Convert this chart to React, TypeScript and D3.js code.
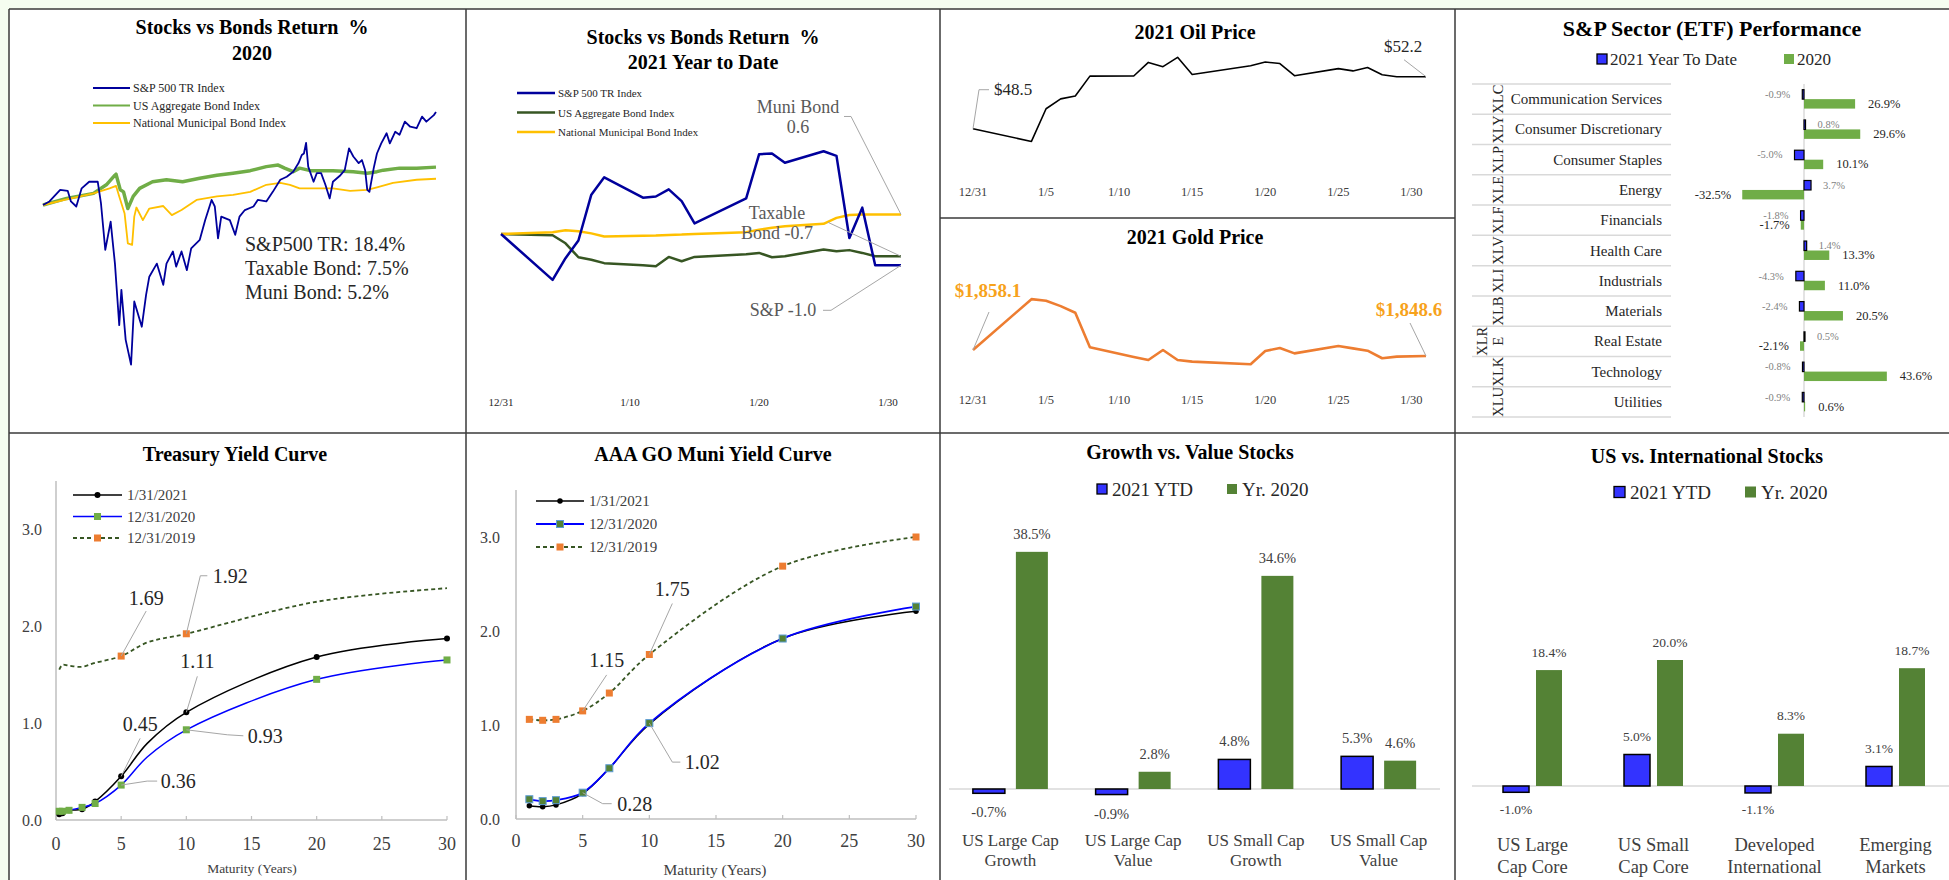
import * as d3 from "d3";
import React from "react";

const SERIF = "'Liberation Serif', 'Times New Roman', serif";
const INK = "#262626";
const GREY_TXT = "#595959";
const LEADER = "#a6a6a6";
const AXIS = "#bfbfbf";
const BORDER = "#3a3a3a";
const BLUE_BAR = "#3333ff";
const GREEN_LIGHT = "#70ad47";
const GREEN_DARK = "#548235";
const GREEN_DASH = "#375623";
const NAVY = "#00009c";
const YELLOW = "#ffc000";
const ORANGE = "#ed7d31";
const GOLD_TXT = "#f7a21b";

// ---- Stocks vs Bonds, 2020 (day of year, cumulative %) ----
const sp2020Day = [0, 6, 16, 23, 26, 31, 36, 43, 51, 54, 58, 63, 67, 71, 73, 77, 82, 85, 92, 96, 99, 106, 112, 115, 121, 124, 129, 134, 138, 146, 151, 157, 160, 163, 166, 174, 179, 183, 188, 196, 200, 208, 214, 221, 227, 233, 238, 241, 243, 245, 247, 252, 255, 259, 263, 267, 270, 277, 281, 285, 289, 294, 297, 300, 302, 304, 308, 311, 315, 320, 323, 328, 332, 337, 342, 348, 353, 357, 364, 366];
const sp2020Ret = [0, 0.7, 3.0, 2.8, 0.7, -0.3, 3.3, 4.6, 4.6, 0.3, -8.9, -3.3, -11.6, -23.8, -16.8, -26.7, -31.6, -19.1, -24.1, -17.8, -14.2, -11.6, -15.8, -11.6, -9.2, -12.2, -9.2, -12.9, -8.6, -6.9, -3.0, 1.0, -0.3, -6.6, -2.3, -3.0, -5.9, -2.3, -1.0, -0.3, 1.0, 0.7, 2.6, 5.0, 5.6, 6.6, 8.3, 9.9, 10.2, 12.3, 7.6, 4.6, 6.3, 6.3, 4.0, 1.3, 4.6, 5.9, 6.9, 11.2, 9.6, 8.3, 8.9, 6.9, 3.0, 2.6, 7.3, 10.2, 12.2, 14.2, 12.2, 14.5, 13.9, 16.5, 15.5, 15.2, 17.5, 16.5, 17.8, 18.4];
const agg2020Day = [0, 22, 47, 59, 67, 68, 72, 75, 79, 84, 90, 102, 115, 130, 146, 162, 177, 193, 208, 219, 225, 233, 239, 249, 270, 289, 302, 311, 317, 332, 348, 366];
const agg2020Ret = [0, 1.3, 2.3, 4.0, 5.9, 6.1, 3.0, 2.6, -0.7, 1.7, 3.3, 4.6, 5.0, 4.6, 5.3, 5.9, 6.3, 6.8, 7.6, 7.9, 7.3, 6.6, 7.3, 6.8, 6.8, 6.6, 6.3, 6.6, 6.9, 7.3, 7.3, 7.5];
const muni2020Day = [0, 22, 47, 62, 68, 71, 76, 79, 83, 85, 87, 93, 99, 112, 120, 129, 143, 162, 177, 193, 208, 221, 230, 239, 270, 286, 302, 311, 326, 348, 366];
const muni2020Ret = [0, 1.1, 2.3, 3.3, 3.8, 1.7, -1.7, -7.6, -7.9, -2.3, -0.5, -3.0, -0.7, -0.2, -2.0, -1.0, 1.0, 1.7, 2.0, 2.6, 4.0, 4.4, 4.0, 3.3, 3.3, 2.8, 3.0, 3.5, 4.4, 5.0, 5.2];
const legend2020 = ["S&P 500 TR Index", "US Aggregate Bond Index", "National Municipal Bond Index"];
const notes2020 = ["S&P500 TR: 18.4%", "Taxable Bond: 7.5%", "Muni Bond: 5.2%"];

// ---- January 2021 (days since 12/31) ----
const janDays = [0, 4, 5, 6, 7, 8, 11, 12, 13, 14, 15, 19, 20, 21, 22, 25, 26, 27, 28, 29, 31];
const sp2021 = [0, -1.48, -0.78, -0.21, 1.27, 1.83, 1.17, 1.21, 1.44, 1.06, 0.34, 1.15, 2.57, 2.6, 2.3, 2.67, 2.52, -0.13, 0.85, -1.01, -1.01];
const agg2021 = [0, -0.04, -0.3, -0.75, -0.83, -0.94, -1.01, -1.04, -0.74, -0.88, -0.74, -0.65, -0.61, -0.75, -0.72, -0.5, -0.56, -0.52, -0.61, -0.72, -0.72];
const muni2021 = [0, 0.06, 0.12, 0.09, 0.02, -0.08, -0.06, -0.05, -0.03, -0.02, 0.0, 0.06, 0.14, 0.2, 0.25, 0.33, 0.52, 0.61, 0.63, 0.63, 0.63];
const ytdTickDays = [0, 10, 20, 30];
const ytdTickLabels = ["12/31", "1/10", "1/20", "1/30"];

const oilPrice = [48.52, 47.62, 49.93, 50.63, 50.83, 52.24, 52.25, 53.21, 52.91, 53.57, 52.36, 52.98, 53.24, 53.13, 52.27, 52.77, 52.61, 52.85, 52.34, 52.2, 52.2];
const goldPrice = [1858.1, 1938.6, 1936.0, 1927.6, 1917.0, 1862.3, 1847.0, 1842.3, 1858.1, 1842.3, 1839.7, 1835.5, 1856.5, 1861.3, 1852.8, 1864.4, 1860.7, 1857.0, 1845.0, 1847.6, 1848.6];
const commTickDays = [0, 5, 10, 15, 20, 25, 30];
const commTickLabels = ["12/31", "1/5", "1/10", "1/15", "1/20", "1/25", "1/30"];

// ---- Sector ETFs ----
const sectorTickers = ["XLC", "XLY", "XLP", "XLE", "XLF", "XLV", "XLI", "XLB", "XLRE", "XLK", "XLU"];
const sectorNames = ["Communication Services", "Consumer Discretionary", "Consumer Staples", "Energy", "Financials", "Health Care", "Industrials", "Materials", "Real Estate", "Technology", "Utilities"];
const sectorYtd = [-0.9, 0.8, -5.0, 3.7, -1.8, 1.4, -4.3, -2.4, 0.5, -0.8, -0.9];
const sector2020 = [26.9, 29.6, 10.1, -32.5, -1.7, 13.3, 11.0, 20.5, -2.1, 43.6, 0.6];

// ---- Yield curves ----
const tsyMat = [0.25, 0.5, 1, 2, 3, 5, 7, 10, 20, 30];
const tsy2021 = [0.06, 0.07, 0.10, 0.11, 0.19, 0.45, 0.79, 1.11, 1.68, 1.87];
const tsy2020 = [0.09, 0.09, 0.10, 0.13, 0.17, 0.36, 0.65, 0.93, 1.45, 1.65];
const tsy2019 = [1.55, 1.60, 1.59, 1.58, 1.62, 1.69, 1.83, 1.92, 2.25, 2.39];
const muniMat = [1, 2, 3, 5, 7, 10, 20, 30];
const aaa2021 = [0.14, 0.13, 0.15, 0.27, 0.54, 1.01, 1.92, 2.21];
const aaa2020 = [0.21, 0.19, 0.20, 0.28, 0.54, 1.02, 1.92, 2.26];
const aaa2019 = [1.06, 1.05, 1.06, 1.15, 1.34, 1.75, 2.69, 3.00];
const curveDates = ["1/31/2021", "12/31/2020", "12/31/2019"];
const yTicks = [0, 1, 2, 3];
const xTicks = [0, 5, 10, 15, 20, 25, 30];

// ---- Growth / value and US / international ----
const gvCats = [["US Large Cap", "Growth"], ["US Large Cap", "Value"], ["US Small Cap", "Growth"], ["US Small Cap", "Value"]];
const gvYtd = [-0.7, -0.9, 4.8, 5.3];
const gv2020 = [38.5, 2.8, 34.6, 4.6];
const intlCats = [["US Large", "Cap Core"], ["US Small", "Cap Core"], ["Developed", "International"], ["Emerging", "Markets"]];
const intlYtd = [-1.0, 5.0, -1.1, 3.1];
const intl2020 = [18.4, 20.0, 8.3, 18.7];

type Pt = [number, number];
const pairs = (a: number[], b: number[]): Pt[] => a.map((v, i) => [v, b[i]] as Pt);
const pct = (v: number) => v.toFixed(1) + "%";

function T({ x, y, children, size = 14, anchor = "middle", weight = "normal", fill = INK, ...rest }: any) {
  return (
    <text x={x} y={y} fontSize={size} textAnchor={anchor} fontWeight={weight} fill={fill}
      dominantBaseline="central" fontFamily={SERIF} {...rest}>{children}</text>
  );
}

function Leader({ pts }: { pts: Pt[] }) {
  return <polyline points={pts.map(p => p.join(",")).join(" ")} fill="none" stroke={LEADER} strokeWidth={1} />;
}

function Stocks2020() {
  const x = d3.scaleLinear().domain([0, 366]).range([43, 436]);
  const y = d3.scaleLinear().domain([0, 10]).range([205, 154.5]);
  const line = d3.line<Pt>().x(d => x(d[0])).y(d => y(d[1]));
  const styles = [
    { color: NAVY, w: 2 },
    { color: GREEN_LIGHT, w: 3.5 },
    { color: YELLOW, w: 2 },
  ];
  return (
    <g>
      <T x={252} y={27} size={20} weight="bold" fill="#000">{"Stocks vs Bonds Return \u00a0%"}</T>
      <T x={252} y={53} size={20} weight="bold" fill="#000">2020</T>
      {legend2020.map((name, i) => (
        <g key={name}>
          <line x1={93} x2={130} y1={88 + i * 17.5} y2={88 + i * 17.5} stroke={styles[i].color} strokeWidth={2} />
          <T x={133} y={88 + i * 17.5} size={12} anchor="start">{name}</T>
        </g>
      ))}
      <path d={line(pairs(agg2020Day, agg2020Ret))!} fill="none" stroke={GREEN_LIGHT} strokeWidth={3.5} strokeLinejoin="round" />
      <path d={line(pairs(muni2020Day, muni2020Ret))!} fill="none" stroke={YELLOW} strokeWidth={1.8} strokeLinejoin="round" />
      <path d={line(pairs(sp2020Day, sp2020Ret))!} fill="none" stroke={NAVY} strokeWidth={1.8} strokeLinejoin="round" />
      {notes2020.map((s, i) => (
        <T key={s} x={245} y={244 + i * 24} size={20} anchor="start" fill={INK}>{s}</T>
      ))}
    </g>
  );
}

function Stocks2021() {
  const x = d3.scaleLinear().domain([0, 31]).range([501, 901]);
  const y = d3.scaleLinear().domain([0, 1]).range([234, 203]);
  const line = d3.line<Pt>().x(d => x(d[0])).y(d => y(d[1]));
  const styles = [NAVY, GREEN_DASH, YELLOW];
  const last = janDays.length - 1;
  const xe = x(janDays[last]);
  const ySp = y(sp2021[last]), yAgg = y(agg2021[last]), yMuni = y(muni2021[last]);
  return (
    <g>
      <T x={703} y={37} size={20} weight="bold" fill="#000">{"Stocks vs Bonds Return \u00a0%"}</T>
      <T x={703} y={62} size={20} weight="bold" fill="#000">2021 Year to Date</T>
      {legend2020.map((name, i) => (
        <g key={name}>
          <line x1={517} x2={555} y1={93 + i * 19.5} y2={93 + i * 19.5} stroke={styles[i]} strokeWidth={2.5} />
          <T x={558} y={93 + i * 19.5} size={11} anchor="start">{name}</T>
        </g>
      ))}
      <path d={line(pairs(janDays, agg2021))!} fill="none" stroke={GREEN_DASH} strokeWidth={2.5} strokeLinejoin="round" />
      <path d={line(pairs(janDays, muni2021))!} fill="none" stroke={YELLOW} strokeWidth={2.5} strokeLinejoin="round" />
      <path d={line(pairs(janDays, sp2021))!} fill="none" stroke={NAVY} strokeWidth={2.5} strokeLinejoin="round" />
      {ytdTickDays.map((d, i) => (
        <T key={d} x={x(d)} y={402} size={11} fill={INK}>{ytdTickLabels[i]}</T>
      ))}
      <Leader pts={[[xe - 57, yMuni - 98], [xe - 50, yMuni - 98], [xe, yMuni]]} />
      <T x={xe - 103} y={yMuni - 107} size={18} fill={GREY_TXT}>Muni Bond</T>
      <T x={xe - 103} y={yMuni - 87} size={18} fill={GREY_TXT}>{muni2021[last].toFixed(1)}</T>
      <Leader pts={[[xe - 73, yAgg - 34], [xe, yAgg]]} />
      <T x={xe - 124} y={yAgg - 43} size={18} fill={GREY_TXT}>Taxable</T>
      <T x={xe - 124} y={yAgg - 23} size={18} fill={GREY_TXT}>{"Bond " + agg2021[last].toFixed(1)}</T>
      <Leader pts={[[xe - 78, ySp + 45], [xe - 70, ySp + 45], [xe, ySp]]} />
      <T x={xe - 118} y={ySp + 45} size={18} fill={GREY_TXT}>{"S&P " + sp2021[last].toFixed(1)}</T>
    </g>
  );
}

function Commodities() {
  const x = d3.scaleLinear().domain([0, 31]).range([973, 1426]);
  const yOil = d3.scaleLinear().domain([48.5, 52.2]).range([129, 76.7]);
  const yGold = d3.scaleLinear().domain([1858.1, 1848.6]).range([350, 356]);
  const oilLine = d3.line<Pt>().x(d => x(d[0])).y(d => yOil(d[1]));
  const goldLine = d3.line<Pt>().x(d => x(d[0])).y(d => yGold(d[1]));
  const last = janDays.length - 1;
  const o0: Pt = [x(0), yOil(oilPrice[0])];
  const o1: Pt = [x(janDays[last]), yOil(oilPrice[last])];
  const g0: Pt = [x(0), yGold(goldPrice[0])];
  const g1: Pt = [x(janDays[last]), yGold(goldPrice[last])];
  return (
    <g>
      <T x={1195} y={32} size={20} weight="bold" fill="#000">2021 Oil Price</T>
      <path d={oilLine(pairs(janDays, oilPrice))!} fill="none" stroke="#000" strokeWidth={1.6} strokeLinejoin="round" />
      {commTickDays.map((d, i) => (
        <T key={"o" + d} x={x(d)} y={192} size={12.5} fill="#404040">{commTickLabels[i]}</T>
      ))}
      <Leader pts={[[o0[0] + 16, o0[1] - 39], [o0[0] + 6, o0[1] - 39], o0]} />
      <T x={o0[0] + 40} y={o0[1] - 39} size={17} fill={INK}>{"$" + oilPrice[0].toFixed(1)}</T>
      <Leader pts={[[o1[0] - 22, o1[1] - 17], o1]} />
      <T x={o1[0] - 23} y={o1[1] - 30} size={17} fill={INK}>{"$" + oilPrice[last].toFixed(1)}</T>

      <T x={1195} y={237} size={20} weight="bold" fill="#000">2021 Gold Price</T>
      <path d={goldLine(pairs(janDays, goldPrice))!} fill="none" stroke={ORANGE} strokeWidth={2.6} strokeLinejoin="round" />
      {commTickDays.map((d, i) => (
        <T key={"g" + d} x={x(d)} y={400} size={12.5} fill="#404040">{commTickLabels[i]}</T>
      ))}
      <Leader pts={[[g0[0] + 16, g0[1] - 38], g0]} />
      <T x={g0[0] + 15} y={g0[1] - 60} size={19} weight="bold" fill={GOLD_TXT}>{"$" + d3.format(",.1f")(goldPrice[0])}</T>
      <Leader pts={[[g1[0] - 16, g1[1] - 33], g1]} />
      <T x={g1[0] - 17} y={g1[1] - 47} size={19} weight="bold" fill={GOLD_TXT}>{"$" + d3.format(",.1f")(goldPrice[last])}</T>
    </g>
  );
}

function Sectors() {
  const y = d3.scaleBand().domain(sectorTickers).range([84, 417]);
  const sub = d3.scaleBand().domain(["ytd", "yr"]).range([0, y.bandwidth()]).paddingOuter(0.6);
  const x = d3.scaleLinear().domain([0, 10]).range([1804, 1823]);
  const bh = sub.bandwidth();
  return (
    <g>
      <T x={1712} y={28} size={22} weight="bold" fill="#000">S&amp;P Sector (ETF) Performance</T>
      <rect x={1597} y={54} width={10} height={10} fill={BLUE_BAR} stroke="#000" strokeWidth={1.3} />
      <T x={1610} y={59} size={17} anchor="start">2021 Year To Date</T>
      <rect x={1784} y={54} width={10} height={10} fill={GREEN_LIGHT} />
      <T x={1797} y={59} size={17} anchor="start">2020</T>
      {sectorTickers.map(t => (
        <line key={"l" + t} x1={1472} x2={1671} y1={y(t)!} y2={y(t)!} stroke="#d9d9d9" strokeWidth={1.5} />
      ))}
      <line x1={1472} x2={1671} y1={417} y2={417} stroke="#d9d9d9" strokeWidth={1.5} />
      <line x1={x(0)} x2={x(0)} y1={84} y2={417} stroke="#d0d0d0" strokeWidth={1.2} />
      {sectorTickers.map((t, i) => {
        const cy = y(t)! + y.bandwidth() / 2;
        const parts = t === "XLRE" ? ["XLR", "E"] : [t];
        const yb = y(t)! + sub("ytd")!;
        const yg = y(t)! + sub("yr")!;
        const vb = sectorYtd[i], vg = sector2020[i];
        return (
          <g key={t}>
            {parts.map((p, j) => (
              <T key={p} x={1498 - (parts.length - 1 - j) * 16} y={cy} size={14.5}
                transform={`rotate(-90 ${1498 - (parts.length - 1 - j) * 16} ${cy})`}>{p}</T>
            ))}
            <T x={1662} y={cy} size={15} anchor="end">{sectorNames[i]}</T>
            <rect x={Math.min(x(0), x(vg))} y={yg} width={Math.abs(x(vg) - x(0))} height={bh} fill={GREEN_LIGHT} />
            <rect x={Math.min(x(0), x(vb))} y={yb} width={Math.max(Math.abs(x(vb) - x(0)), 1)} height={bh}
              fill={BLUE_BAR} stroke="#000" strokeWidth={1.2} />
            <T x={vb < 0 ? x(vb) - 12 : x(vb) + 12} y={yb + bh / 2} size={10.5} fill="#7f7f7f"
              anchor={vb < 0 ? "end" : "start"}>{pct(vb)}</T>
            <T x={vg < 0 ? x(vg) - 11 : x(vg) + 13} y={yg + bh / 2} size={12.5} fill={INK}
              anchor={vg < 0 ? "end" : "start"}>{pct(vg)}</T>
          </g>
        );
      })}
    </g>
  );
}

function YieldPanel({ cfg }: any) {
  const x = d3.scaleLinear().domain([0, 30]).range([cfg.x0, cfg.x1]);
  const y = d3.scaleLinear().domain([0, 3]).range([cfg.y0, cfg.y3]);
  const line = d3.line<Pt>().x(d => x(d[0])).y(d => y(d[1])).curve(d3.curveCatmullRom.alpha(0.5));
  const sq = (cx: number, cy: number, s: any, k: string) => (
    <rect key={k} x={cx - s.size / 2} y={cy - s.size / 2} width={s.size} height={s.size}
      fill={s.fill} stroke={s.stroke || "none"} strokeWidth={1} />
  );
  const marker = (cx: number, cy: number, s: any, k: string) =>
    s.shape === "dot" ? <circle key={k} cx={cx} cy={cy} r={s.size / 2} fill={s.fill} /> : sq(cx, cy, s, k);
  return (
    <g>
      <T x={cfg.titleX} y={454} size={20} weight="bold" fill="#000">{cfg.title}</T>
      <line x1={cfg.x0} x2={cfg.x0} y1={cfg.axisTop} y2={cfg.y0} stroke={AXIS} strokeWidth={1.5} />
      <line x1={cfg.x0} x2={cfg.x1} y1={cfg.y0} y2={cfg.y0} stroke={AXIS} strokeWidth={1.5} />
      {xTicks.map(t => (
        <g key={"x" + t}>
          <line x1={x(t)} x2={x(t)} y1={cfg.y0 - 4} y2={cfg.y0} stroke={AXIS} strokeWidth={1.2} />
          <T x={x(t)} y={cfg.xLabY} size={18} fill="#404040">{t}</T>
        </g>
      ))}
      {yTicks.map(t => (
        <T key={"y" + t} x={cfg.yLabX} y={y(t)} size={16} anchor="end" fill="#404040">{t.toFixed(1)}</T>
      ))}
      <T x={cfg.axisTitleX} y={cfg.axisTitleY} size={cfg.axisTitleSize} fill="#404040">Maturity (Years)</T>
      {cfg.series.map((s: any, i: number) => (
        <path key={"p" + i} d={line(pairs(cfg.mats, s.values))!} fill="none" stroke={s.color}
          strokeWidth={s.width} strokeDasharray={s.dash || null} />
      ))}
      {cfg.series.map((s: any, i: number) =>
        cfg.mats.map((m: number, j: number) =>
          s.showAt(m) ? marker(x(m), y(s.values[j]), s.marker, `m${i}-${j}`) : null)
      )}
      {cfg.series.map((s: any, i: number) => {
        const ly = cfg.legY + i * cfg.legStep;
        return (
          <g key={"leg" + i}>
            <line x1={cfg.legX0} x2={cfg.legX1} y1={ly} y2={ly} stroke={s.color} strokeWidth={s.width}
              strokeDasharray={s.dash || null} />
            {marker((cfg.legX0 + cfg.legX1) / 2, ly, s.marker, "lm" + i)}
            <T x={cfg.legX1 + 5} y={ly} size={15} anchor="start" fill="#404040">{curveDates[i]}</T>
          </g>
        );
      })}
      {cfg.notes.map((n: any, k: number) => {
        const s = cfg.series[n.series];
        const j = cfg.mats.indexOf(n.mat);
        const p: Pt = [x(n.mat), y(s.values[j])];
        return (
          <g key={"n" + k}>
            <Leader pts={[...n.lead.map((o: Pt) => [p[0] + o[0], p[1] + o[1]] as Pt), p]} />
            <T x={p[0] + n.dx} y={p[1] + n.dy} size={20} fill={INK}>{s.values[j].toFixed(2)}</T>
          </g>
        );
      })}
    </g>
  );
}

const tsyCfg = {
  title: "Treasury Yield Curve", titleX: 235,
  x0: 56, x1: 447, y0: 820, y3: 529, axisTop: 481,
  yLabX: 42, xLabY: 844, axisTitleX: 252, axisTitleY: 868, axisTitleSize: 13.5,
  legX0: 73, legX1: 122, legY: 495, legStep: 21.5,
  mats: tsyMat,
  series: [
    { values: tsy2021, color: "#000", width: 1.5, marker: { shape: "dot", size: 6, fill: "#000" }, showAt: (m: number) => m !== 7 },
    { values: tsy2020, color: "#0000ff", width: 1.5, marker: { shape: "sq", size: 7, fill: GREEN_LIGHT }, showAt: (m: number) => m !== 7 },
    { values: tsy2019, color: GREEN_DASH, width: 1.8, dash: "4 3", marker: { shape: "sq", size: 7, fill: ORANGE }, showAt: (m: number) => m === 5 || m === 10 },
  ],
  notes: [
    { series: 2, mat: 5, dx: 25, dy: -58, lead: [[25, -45]] },
    { series: 2, mat: 10, dx: 44, dy: -58, lead: [[21, -58], [14, -58]] },
    { series: 0, mat: 10, dx: 11, dy: -51, lead: [[11, -36]] },
    { series: 0, mat: 5, dx: 19, dy: -52, lead: [[19, -38]] },
    { series: 1, mat: 10, dx: 79, dy: 6, lead: [[57, 6], [41, 5]] },
    { series: 1, mat: 5, dx: 57, dy: -4, lead: [[36, -4], [26, -4]] },
  ],
};

const muniCfg = {
  title: "AAA GO Muni Yield Curve", titleX: 713,
  x0: 516, x1: 916, y0: 819, y3: 537, axisTop: 490,
  yLabX: 500, xLabY: 841, axisTitleX: 715, axisTitleY: 869, axisTitleSize: 15.5,
  legX0: 536, legX1: 584, legY: 501, legStep: 23,
  mats: muniMat,
  series: [
    { values: aaa2021, color: "#000", width: 1.5, marker: { shape: "dot", size: 5.5, fill: "#000" }, showAt: () => true },
    { values: aaa2020, color: "#0000ff", width: 1.8, marker: { shape: "sq", size: 7, fill: GREEN_DARK, stroke: "#5b9bd5" }, showAt: () => true },
    { values: aaa2019, color: GREEN_DASH, width: 1.8, dash: "4 3", marker: { shape: "sq", size: 7, fill: ORANGE }, showAt: () => true },
  ],
  notes: [
    { series: 2, mat: 10, dx: 23, dy: -66, lead: [[23, -51]] },
    { series: 2, mat: 5, dx: 24, dy: -51, lead: [[24, -36]] },
    { series: 1, mat: 10, dx: 53, dy: 39, lead: [[31, 39], [23, 39]] },
    { series: 1, mat: 5, dx: 52, dy: 11, lead: [[29, 11], [20, 11]] },
  ],
};

function GroupedBars({ cfg }: any) {
  const idx = cfg.cats.map((_: any, i: number) => String(i));
  const x = d3.scaleBand().domain(idx).range([cfg.x0, cfg.x1]);
  const sub = d3.scaleBand().domain(["ytd", "yr"]).range([0, x.bandwidth()])
    .paddingInner(cfg.padIn).paddingOuter(cfg.padOut);
  const y = d3.scaleLinear().domain([0, 10]).range([cfg.zeroY, cfg.zeroY - cfg.pxPer * 10]);
  const bw = sub.bandwidth();
  const L = cfg.legend;
  return (
    <g>
      <T x={cfg.titleX} y={cfg.titleY} size={20} weight="bold" fill="#000">{cfg.title}</T>
      <rect x={L.bx} y={L.y - L.s / 2} width={L.s} height={L.s} fill={BLUE_BAR} stroke="#000" strokeWidth={1.3} />
      <T x={L.bx + L.s + 5} y={L.y} size={19} anchor="start">2021 YTD</T>
      <rect x={L.gx} y={L.y - L.s / 2} width={L.s} height={L.s} fill={GREEN_DARK} />
      <T x={L.gx + L.s + 5} y={L.y} size={19} anchor="start">Yr. 2020</T>
      <line x1={cfg.x0} x2={cfg.lineEnd} y1={cfg.zeroY} y2={cfg.zeroY} stroke="#d9d9d9" strokeWidth={1.5} />
      {cfg.cats.map((c: string[], i: number) => {
        const gx = x(String(i))!;
        const cx = gx + x.bandwidth() / 2;
        const bars = [
          { v: cfg.ytd[i], k: "ytd", fill: BLUE_BAR, stroke: "#000" },
          { v: cfg.yr[i], k: "yr", fill: GREEN_DARK, stroke: "none" },
        ];
        return (
          <g key={i}>
            {bars.map(b => {
              const bx = gx + sub(b.k)!;
              const top = Math.min(y(b.v), y(0));
              const h = Math.abs(y(b.v) - y(0));
              return (
                <g key={b.k}>
                  <rect x={bx} y={top} width={bw} height={h} fill={b.fill} stroke={b.stroke} strokeWidth={1.5} />
                  <T x={bx + bw / 2} y={b.v < 0 ? y(b.v) + cfg.below : y(b.v) - cfg.above} size={cfg.valSize} fill="#404040">{pct(b.v)}</T>
                </g>
              );
            })}
            {c.map((line, j) => (
              <T key={line + j} x={cx} y={cfg.catY + j * cfg.catStep} size={cfg.catSize} fill="#404040">{line}</T>
            ))}
          </g>
        );
      })}
    </g>
  );
}

const gvCfg = {
  title: "Growth vs. Value Stocks", titleX: 1190, titleY: 452,
  legend: { bx: 1097, gx: 1227, y: 489, s: 10 },
  cats: gvCats, ytd: gvYtd, yr: gv2020,
  x0: 949, x1: 1440, lineEnd: 1440, zeroY: 789, pxPer: 6.16,
  padIn: 0.256, padOut: 0.555, above: 18, below: 19, valSize: 14.5,
  catY: 840, catStep: 20, catSize: 17,
};

const intlCfg = {
  title: "US vs. International Stocks", titleX: 1707, titleY: 456,
  legend: { bx: 1614, gx: 1745, y: 492, s: 11 },
  cats: intlCats, ytd: intlYtd, yr: intl2020,
  x0: 1472, x1: 1956, lineEnd: 1949, zeroY: 786, pxPer: 6.3,
  padIn: 0.212, padOut: 0.94, above: 18, below: 17, valSize: 13.5,
  catY: 845, catStep: 22, catSize: 18.5,
};

export default function App() {
  return (
    <svg width={1949} height={880} style={{ position: "absolute", left: 0, top: 0 }}>
      <rect x={0} y={0} width={1949} height={880} fill="#f5fdf0" />
      <rect x={9} y={9} width={1940} height={871} fill="#fff" />
      <Stocks2020 />
      <Stocks2021 />
      <Commodities />
      <Sectors />
      <YieldPanel cfg={tsyCfg} />
      <YieldPanel cfg={muniCfg} />
      <GroupedBars cfg={gvCfg} />
      <GroupedBars cfg={intlCfg} />
      <g stroke={BORDER} strokeWidth={1.5}>
        <line x1={9} x2={1949} y1={9} y2={9} />
        <line x1={9} x2={9} y1={9} y2={880} />
        <line x1={466} x2={466} y1={9} y2={880} />
        <line x1={940} x2={940} y1={9} y2={880} />
        <line x1={1455} x2={1455} y1={9} y2={880} />
        <line x1={9} x2={1949} y1={433} y2={433} />
        <line x1={940} x2={1455} y1={218} y2={218} />
      </g>
    </svg>
  );
}
